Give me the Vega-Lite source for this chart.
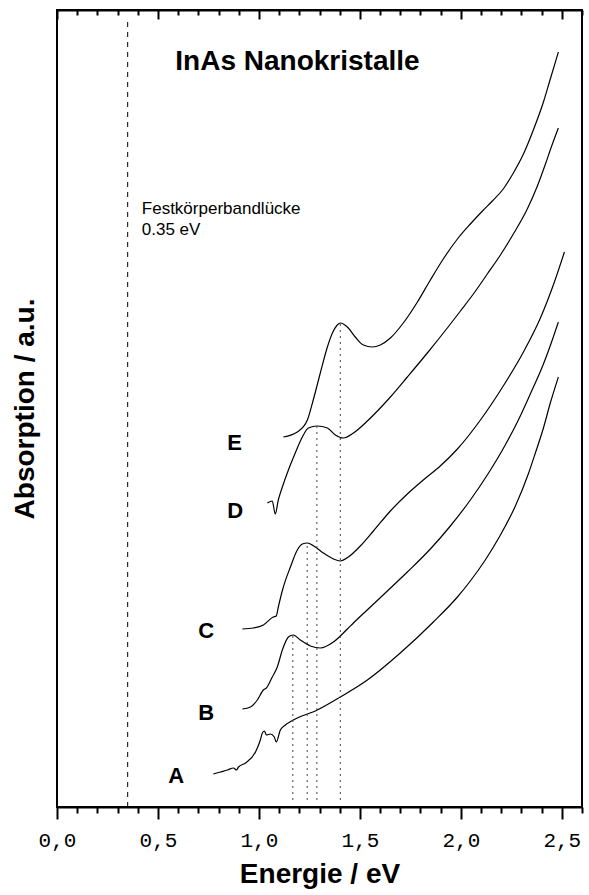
{
  "$schema": "https://vega.github.io/schema/vega-lite/v6.json",
  "width": 525,
  "height": 797,
  "autosize": "none",
  "padding": {"left": 57, "top": 10, "right": 7, "bottom": 88},
  "background": "white",
  "config": {
    "view": {"stroke": "black", "strokeWidth": 2},
    "axis": {"grid": false},
    "axisY": {"ticks": false, "labels": false, "domain": false, "titleFont": "Liberation Sans", "titleFontSize": 28, "titleFontWeight": "bold", "titleColor": "black", "titlePadding": 18}
  },
  "datasets": {
    "curves": [
      {"s": "E", "e": 1.121, "v": 3.70}, {"s": "E", "e": 1.190, "v": 3.75}, {"s": "E", "e": 1.240, "v": 3.87}, {"s": "E", "e": 1.269, "v": 4.07}, {"s": "E", "e": 1.304, "v": 4.34}, {"s": "E", "e": 1.339, "v": 4.60}, {"s": "E", "e": 1.364, "v": 4.74}, {"s": "E", "e": 1.388, "v": 4.82}, {"s": "E", "e": 1.403, "v": 4.84}, {"s": "E", "e": 1.438, "v": 4.80}, {"s": "E", "e": 1.477, "v": 4.70}, {"s": "E", "e": 1.517, "v": 4.62}, {"s": "E", "e": 1.562, "v": 4.60}, {"s": "E", "e": 1.601, "v": 4.62}, {"s": "E", "e": 1.651, "v": 4.69}, {"s": "E", "e": 1.715, "v": 4.84}, {"s": "E", "e": 1.785, "v": 5.05}, {"s": "E", "e": 1.849, "v": 5.27}, {"s": "E", "e": 1.913, "v": 5.48}, {"s": "E", "e": 1.983, "v": 5.68}, {"s": "E", "e": 2.047, "v": 5.83}, {"s": "E", "e": 2.107, "v": 5.96}, {"s": "E", "e": 2.156, "v": 6.06}, {"s": "E", "e": 2.210, "v": 6.18}, {"s": "E", "e": 2.260, "v": 6.34}, {"s": "E", "e": 2.310, "v": 6.53}, {"s": "E", "e": 2.359, "v": 6.77}, {"s": "E", "e": 2.409, "v": 7.05}, {"s": "E", "e": 2.443, "v": 7.28}, {"s": "E", "e": 2.483, "v": 7.55},
      {"s": "D", "e": 1.042, "v": 3.04}, {"s": "D", "e": 1.066, "v": 3.06}, {"s": "D", "e": 1.081, "v": 2.93}, {"s": "D", "e": 1.096, "v": 3.07}, {"s": "D", "e": 1.116, "v": 3.20}, {"s": "D", "e": 1.146, "v": 3.37}, {"s": "D", "e": 1.180, "v": 3.54}, {"s": "D", "e": 1.215, "v": 3.70}, {"s": "D", "e": 1.245, "v": 3.79}, {"s": "D", "e": 1.289, "v": 3.81}, {"s": "D", "e": 1.339, "v": 3.79}, {"s": "D", "e": 1.378, "v": 3.72}, {"s": "D", "e": 1.418, "v": 3.69}, {"s": "D", "e": 1.468, "v": 3.74}, {"s": "D", "e": 1.537, "v": 3.86}, {"s": "D", "e": 1.601, "v": 3.99}, {"s": "D", "e": 1.651, "v": 4.10}, {"s": "D", "e": 1.735, "v": 4.30}, {"s": "D", "e": 1.834, "v": 4.54}, {"s": "D", "e": 1.933, "v": 4.79}, {"s": "D", "e": 1.998, "v": 4.96}, {"s": "D", "e": 2.062, "v": 5.13}, {"s": "D", "e": 2.131, "v": 5.33}, {"s": "D", "e": 2.196, "v": 5.52}, {"s": "D", "e": 2.260, "v": 5.73}, {"s": "D", "e": 2.329, "v": 5.98}, {"s": "D", "e": 2.379, "v": 6.21}, {"s": "D", "e": 2.419, "v": 6.43}, {"s": "D", "e": 2.448, "v": 6.60}, {"s": "D", "e": 2.483, "v": 6.79},
      {"s": "C", "e": 0.918, "v": 1.78}, {"s": "C", "e": 0.972, "v": 1.79}, {"s": "C", "e": 1.022, "v": 1.82}, {"s": "C", "e": 1.071, "v": 1.90}, {"s": "C", "e": 1.086, "v": 1.91}, {"s": "C", "e": 1.096, "v": 2.00}, {"s": "C", "e": 1.121, "v": 2.20}, {"s": "C", "e": 1.156, "v": 2.40}, {"s": "C", "e": 1.190, "v": 2.57}, {"s": "C", "e": 1.215, "v": 2.63}, {"s": "C", "e": 1.240, "v": 2.64}, {"s": "C", "e": 1.279, "v": 2.60}, {"s": "C", "e": 1.319, "v": 2.54}, {"s": "C", "e": 1.369, "v": 2.48}, {"s": "C", "e": 1.403, "v": 2.46}, {"s": "C", "e": 1.443, "v": 2.50}, {"s": "C", "e": 1.502, "v": 2.61}, {"s": "C", "e": 1.567, "v": 2.76}, {"s": "C", "e": 1.651, "v": 2.96}, {"s": "C", "e": 1.735, "v": 3.13}, {"s": "C", "e": 1.814, "v": 3.27}, {"s": "C", "e": 1.898, "v": 3.41}, {"s": "C", "e": 1.983, "v": 3.58}, {"s": "C", "e": 2.097, "v": 3.87}, {"s": "C", "e": 2.210, "v": 4.21}, {"s": "C", "e": 2.310, "v": 4.55}, {"s": "C", "e": 2.394, "v": 4.89}, {"s": "C", "e": 2.458, "v": 5.22}, {"s": "C", "e": 2.513, "v": 5.55},
      {"s": "B", "e": 0.918, "v": 0.98}, {"s": "B", "e": 0.958, "v": 1.00}, {"s": "B", "e": 0.992, "v": 1.07}, {"s": "B", "e": 1.022, "v": 1.17}, {"s": "B", "e": 1.037, "v": 1.19}, {"s": "B", "e": 1.066, "v": 1.30}, {"s": "B", "e": 1.091, "v": 1.40}, {"s": "B", "e": 1.116, "v": 1.57}, {"s": "B", "e": 1.146, "v": 1.70}, {"s": "B", "e": 1.170, "v": 1.72}, {"s": "B", "e": 1.205, "v": 1.67}, {"s": "B", "e": 1.255, "v": 1.61}, {"s": "B", "e": 1.304, "v": 1.59}, {"s": "B", "e": 1.369, "v": 1.65}, {"s": "B", "e": 1.438, "v": 1.78}, {"s": "B", "e": 1.468, "v": 1.84}, {"s": "B", "e": 1.552, "v": 2.00}, {"s": "B", "e": 1.636, "v": 2.16}, {"s": "B", "e": 1.735, "v": 2.35}, {"s": "B", "e": 1.849, "v": 2.58}, {"s": "B", "e": 1.948, "v": 2.81}, {"s": "B", "e": 2.047, "v": 3.07}, {"s": "B", "e": 2.131, "v": 3.32}, {"s": "B", "e": 2.220, "v": 3.62}, {"s": "B", "e": 2.280, "v": 3.85}, {"s": "B", "e": 2.344, "v": 4.13}, {"s": "B", "e": 2.409, "v": 4.43}, {"s": "B", "e": 2.458, "v": 4.70}, {"s": "B", "e": 2.483, "v": 4.85},
      {"s": "A", "e": 0.774, "v": 0.33}, {"s": "A", "e": 0.809, "v": 0.35}, {"s": "A", "e": 0.844, "v": 0.37}, {"s": "A", "e": 0.874, "v": 0.39}, {"s": "A", "e": 0.889, "v": 0.37}, {"s": "A", "e": 0.899, "v": 0.40}, {"s": "A", "e": 0.934, "v": 0.44}, {"s": "A", "e": 0.983, "v": 0.55}, {"s": "A", "e": 1.007, "v": 0.67}, {"s": "A", "e": 1.017, "v": 0.74}, {"s": "A", "e": 1.027, "v": 0.76}, {"s": "A", "e": 1.037, "v": 0.72}, {"s": "A", "e": 1.057, "v": 0.73}, {"s": "A", "e": 1.076, "v": 0.70}, {"s": "A", "e": 1.086, "v": 0.65}, {"s": "A", "e": 1.106, "v": 0.77}, {"s": "A", "e": 1.131, "v": 0.82}, {"s": "A", "e": 1.170, "v": 0.87}, {"s": "A", "e": 1.289, "v": 0.97}, {"s": "A", "e": 1.403, "v": 1.10}, {"s": "A", "e": 1.537, "v": 1.27}, {"s": "A", "e": 1.700, "v": 1.54}, {"s": "A", "e": 1.864, "v": 1.85}, {"s": "A", "e": 1.983, "v": 2.10}, {"s": "A", "e": 2.047, "v": 2.26}, {"s": "A", "e": 2.121, "v": 2.47}, {"s": "A", "e": 2.196, "v": 2.72}, {"s": "A", "e": 2.270, "v": 3.01}, {"s": "A", "e": 2.334, "v": 3.33}, {"s": "A", "e": 2.369, "v": 3.54}, {"s": "A", "e": 2.409, "v": 3.79}, {"s": "A", "e": 2.443, "v": 4.04}, {"s": "A", "e": 2.483, "v": 4.30}
    ],
    "peaks": [
      {"e": 1.168, "v": 0.07, "v2": 1.72},
      {"e": 1.239, "v": 0.07, "v2": 2.64},
      {"e": 1.287, "v": 0.07, "v2": 3.81},
      {"e": 1.403, "v": 0.07, "v2": 4.84}
    ],
    "gap": [{"e": 0.35, "v": 0.0, "v2": 7.90}],
    "labels": [
      {"t": "E", "e": 0.843, "v": 3.57},
      {"t": "D", "e": 0.843, "v": 2.89},
      {"t": "C", "e": 0.700, "v": 1.69},
      {"t": "B", "e": 0.700, "v": 0.87},
      {"t": "A", "e": 0.551, "v": 0.24}
    ],
    "notes": [
      {"t": "Festkörperbandlücke", "e": 0.42, "v": 5.93},
      {"t": "0.35 eV", "e": 0.42, "v": 5.72}
    ],
    "head": [{"t": "InAs Nanokristalle", "e": 0.586, "v": 7.37}]
  },
  "resolve": {"axis": {"x": "independent"}},
  "layer": [
    {
      "data": {"name": "curves"},
      "mark": {"type": "line", "color": "black", "strokeWidth": 1.2, "interpolate": "monotone"},
      "encoding": {
        "x": {"field": "e", "type": "quantitative", "scale": {"domain": [0, 2.6], "nice": false, "zero": false},
          "axis": {"orient": "bottom", "values": [0,0.1,0.2,0.3,0.4,0.5,0.6,0.7,0.8,0.9,1,1.1,1.2,1.3,1.4,1.5,1.6,1.7,1.8,1.9,2,2.1,2.2,2.3,2.4,2.5,2.6],
            "title": "Energie / eV", "titleFont": "Liberation Sans", "titleFontSize": 28, "titleFontWeight": "bold", "titleColor": "black", "titlePadding": 10,
            "labelFont": "Liberation Mono", "labelFontSize": 21, "labelColor": "black", "labelPadding": 10, "labelOverlap": false, "labelFlush": false,
            "labelExpr": "abs(datum.value*2 - round(datum.value*2)) < 0.01 ? replace(format(datum.value, '.1f'), '.', ',') : ''",
            "tickSize": {"condition": {"test": "abs(datum.value*2 - round(datum.value*2)) < 0.01", "value": 12}, "value": 6},
            "tickWidth": 2, "tickColor": "black", "domainColor": "black", "domainWidth": 2}},
        "y": {"field": "v", "type": "quantitative", "title": "Absorption / a.u.", "scale": {"domain": [0, 7.97], "nice": false, "zero": false}},
        "detail": {"field": "s"}
      }
    },
    {
      "data": {"name": "gap"},
      "mark": {"type": "rule", "color": "black", "strokeWidth": 1, "strokeDash": [5, 5]},
      "encoding": {
        "x": {"field": "e", "type": "quantitative",
          "axis": {"orient": "top", "values": [0,0.1,0.2,0.3,0.4,0.5,0.6,0.7,0.8,0.9,1,1.1,1.2,1.3,1.4,1.5,1.6,1.7,1.8,1.9,2,2.1,2.2,2.3,2.4,2.5,2.6],
            "title": null, "labels": false,
            "tickSize": {"condition": {"test": "abs(datum.value*2 - round(datum.value*2)) < 0.01", "value": -9}, "value": -5},
            "tickWidth": 2, "tickColor": "black", "domainColor": "black", "domainWidth": 2}},
        "y": {"field": "v", "type": "quantitative", "title": "Absorption / a.u."},
        "y2": {"field": "v2"}
      }
    },
    {
      "data": {"name": "peaks"},
      "mark": {"type": "rule", "color": "#444444", "strokeWidth": 1, "strokeDash": [2, 4]},
      "encoding": {
        "x": {"field": "e", "type": "quantitative", "axis": null},
        "y": {"field": "v", "type": "quantitative", "title": "Absorption / a.u."},
        "y2": {"field": "v2"}
      }
    },
    {
      "data": {"name": "labels"},
      "mark": {"type": "text", "align": "left", "baseline": "alphabetic", "font": "Liberation Sans", "fontSize": 22, "fontWeight": "bold", "color": "black"},
      "encoding": {
        "x": {"field": "e", "type": "quantitative", "axis": null},
        "y": {"field": "v", "type": "quantitative", "title": "Absorption / a.u."},
        "text": {"field": "t"}
      }
    },
    {
      "data": {"name": "notes"},
      "mark": {"type": "text", "align": "left", "baseline": "alphabetic", "font": "Liberation Sans", "fontSize": 17, "color": "black"},
      "encoding": {
        "x": {"field": "e", "type": "quantitative", "axis": null},
        "y": {"field": "v", "type": "quantitative", "title": "Absorption / a.u."},
        "text": {"field": "t"}
      }
    },
    {
      "data": {"name": "head"},
      "mark": {"type": "text", "align": "left", "baseline": "alphabetic", "font": "Liberation Sans", "fontSize": 28, "fontWeight": "bold", "color": "black"},
      "encoding": {
        "x": {"field": "e", "type": "quantitative", "axis": null},
        "y": {"field": "v", "type": "quantitative", "title": "Absorption / a.u."},
        "text": {"field": "t"}
      }
    }
  ]
}
